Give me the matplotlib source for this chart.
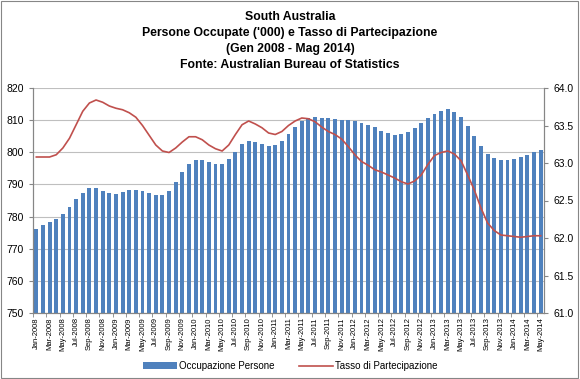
import numpy as np
import matplotlib
matplotlib.use("Agg")
import matplotlib.pyplot as plt
from matplotlib.patches import Rectangle

plt.rcParams['font.family'] = ['Liberation Sans', 'DejaVu Sans']

# Occupazione persone ('000), Gen 2008 - Mag 2014
occupati = [
    776.2, 777.4, 778.4, 779.2, 780.8, 783.1, 785.5, 787.4, 788.9, 789.0,
    788.1, 787.3, 787.0, 787.6, 788.3, 788.4, 788.0, 787.4, 786.8, 786.8,
    788.0, 790.8, 793.9, 796.5, 797.7, 797.6, 796.9, 796.4, 796.5, 797.9,
    800.2, 802.6, 803.6, 803.2, 802.6, 802.1, 802.4, 803.6, 805.7, 808.0,
    809.8, 810.7, 811.1, 810.8, 810.7, 810.5, 810.1, 810.1, 809.6, 809.1,
    808.5, 807.8, 806.7, 806.0, 805.5, 805.7, 806.4, 807.7, 809.0, 810.6,
    811.9, 813.0, 813.5, 812.6, 811.1, 808.3, 805.2, 802.0, 799.5, 798.2,
    797.7, 797.7, 797.9, 798.5, 799.3, 800.2, 800.8,
]

# Tasso di partecipazione (%)
tasso = [
    63.08, 63.08, 63.08, 63.11, 63.20, 63.33, 63.51, 63.69, 63.80, 63.84,
    63.81, 63.76, 63.73, 63.71, 63.67, 63.61, 63.50, 63.37, 63.24, 63.16,
    63.14, 63.20, 63.28, 63.35, 63.35, 63.31, 63.24, 63.19, 63.16, 63.24,
    63.38, 63.51, 63.56, 63.52, 63.47, 63.40, 63.38, 63.42, 63.50, 63.56,
    63.60, 63.59, 63.55, 63.48, 63.42, 63.38, 63.32, 63.22, 63.11, 63.02,
    62.97, 62.91, 62.88, 62.84, 62.80, 62.75, 62.72, 62.76, 62.84, 62.98,
    63.10, 63.14, 63.16, 63.12, 63.03, 62.84, 62.64, 62.40, 62.20, 62.10,
    62.04, 62.03, 62.02, 62.01, 62.02, 62.03, 62.03,
]

mesi = ['Jan', 'Feb', 'Mar', 'Apr', 'May', 'Jun',
        'Jul', 'Aug', 'Sep', 'Oct', 'Nov', 'Dec']
etichette = [f"{mesi[i % 12]}-{2008 + i // 12}" for i in range(len(occupati))]

x = np.arange(len(occupati))

fig = plt.figure(figsize=(5.8, 3.79), dpi=100)
ax = fig.add_axes([33 / 580, 1 - 313 / 379, (544 - 33) / 580, (313 - 88) / 379])

ax.bar(x, occupati, width=0.6, color='#4F81BD', zorder=2, label='Occupazione Persone')
ax.set_ylim(750, 820)
ax.set_yticks(np.arange(750, 821, 10))
ax.set_xlim(-0.5, len(x) - 0.5)
ax.set_xticks(x[::2])
ax.set_xticklabels(etichette[::2], rotation=90, fontsize=5.5)
ax.set_xticks(np.arange(-0.5, len(x), 2), minor=True)
ax.tick_params(axis='x', which='major', length=0, pad=3)
ax.tick_params(axis='x', which='minor', length=3, color='#868686')
ax.tick_params(axis='y', labelsize=7.5, length=3, color='#868686')
ax.grid(axis='y', color='#BFBFBF', linewidth=0.8, zorder=0)
ax.set_axisbelow(True)
ax.spines['top'].set_visible(False)
for s in ['left', 'right', 'bottom']:
    ax.spines[s].set_color('#868686')
    ax.spines[s].set_linewidth(0.8)

ax2 = ax.twinx()
ax2.plot(x, tasso, color='#C0504D', linewidth=1.2, label='Tasso di Partecipazione')
ax2.set_ylim(61, 64)
ax2.set_yticks(np.arange(61, 64.01, 0.5))
ax2.set_yticklabels([f"{v:.1f}" for v in np.arange(61, 64.01, 0.5)])
ax2.tick_params(axis='y', labelsize=7.5, length=3, color='#868686')
ax2.spines['top'].set_visible(False)
for s in ['left', 'right', 'bottom']:
    ax2.spines[s].set_color('#868686')
    ax2.spines[s].set_linewidth(0.8)

fig.text(0.5, 1 - 41 / 379,
         "South Australia\nPersone Occupate ('000) e Tasso di Partecipazione\n"
         "(Gen 2008 - Mag 2014)\nFonte: Australian Bureau of Statistics",
         ha='center', va='center', fontsize=8.8, fontweight='bold', linespacing=1.45)

h1, l1 = ax.get_legend_handles_labels()
h2, l2 = ax2.get_legend_handles_labels()
fig.legend(h1 + h2, l1 + l2, loc='center', bbox_to_anchor=(0.5, 1 - 366 / 379),
           ncol=2, frameon=False, fontsize=7, handlelength=3.5, columnspacing=2.5,
           handletextpad=0.2)

fig.patches.append(Rectangle((0.002, 0.003), 0.995, 0.994, transform=fig.transFigure,
                             fill=False, edgecolor='#868686', linewidth=0.8))

fig.savefig('out.png', dpi=100)
